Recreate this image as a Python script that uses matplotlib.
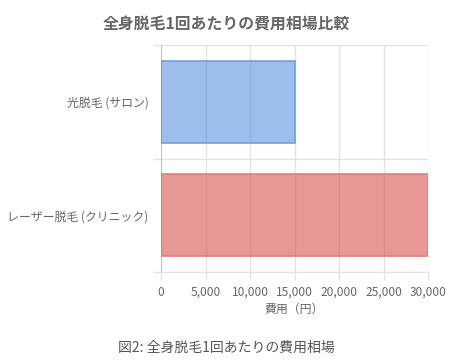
import matplotlib
matplotlib.use('Agg')
import matplotlib.pyplot as plt

plt.rcParams['font.family'] = ['Noto Sans CJK JP', 'DejaVu Sans']

categories = ['光脱毛 (サロン)', 'レーザー脱毛 (クリニック)']
costs = [15000, 30000]
fill_colors = [(88/255, 148/255, 220/255, 0.6), (218/255, 83/255, 77/255, 0.6)]
edge_colors = ['#6fa0df', '#e07c7a']
xticks = [0, 5000, 10000, 15000, 20000, 25000, 30000]

grid_c = '#e3e3e3'
text_c = '#666666'

fig = plt.figure(figsize=(4.71, 3.63), dpi=100)
ax = fig.add_axes([161/471, 1 - 272/363, 267/471, 227/363])

ypos = list(range(len(categories)))
ax.barh(ypos, costs, height=0.72, color=fill_colors, edgecolor=edge_colors,
        linewidth=1.2, zorder=3)

ax.set_xlim(0, 30000)
ax.set_ylim(1.5, -0.5)
ax.set_xticks(xticks)
ax.set_xticklabels([f'{v:,}' for v in xticks])
ax.set_yticks(ypos)
ax.set_yticklabels(categories)
ax.set_yticks([-0.5, 0.5, 1.5], minor=True)

ax.grid(True, axis='x', which='major', color=grid_c, linewidth=1, zorder=0)
ax.grid(True, axis='y', which='minor', color=grid_c, linewidth=1, zorder=0)
ax.tick_params(axis='x', which='major', length=6, color=grid_c, width=1,
               labelsize=8.6, labelcolor=text_c, pad=4)
ax.tick_params(axis='y', which='major', length=0, labelsize=8.6,
               labelcolor=text_c, pad=9)
ax.tick_params(axis='y', which='minor', length=6, color=grid_c, width=1)

for s in ['top', 'right']:
    ax.spines[s].set_visible(False)
ax.spines['bottom'].set_color(grid_c)
ax.spines['left'].set_color('#c4c4c4')

ax.set_xlabel('費用（円）', fontsize=8.6, color=text_c, labelpad=3)

fig.text(226/471, 1 - 25/363, '全身脱毛1回あたりの費用相場比較', ha='center', va='center',
         fontsize=11.4, fontweight='bold', color=text_c)
fig.text(226/471, 1 - 348/363, '図2: 全身脱毛1回あたりの費用相場', ha='center', va='center',
         fontsize=10, color='#555555')

fig.savefig('out.png', dpi=100)
